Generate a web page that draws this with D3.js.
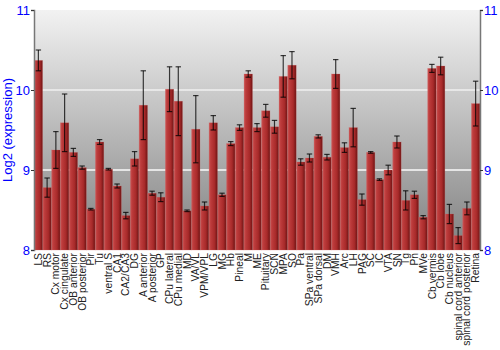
<!DOCTYPE html>
<html>
<head>
<meta charset="utf-8">
<script src="https://cdn.jsdelivr.net/npm/d3@7"></script>
<style>
body { margin: 0; background: #fff; }
svg { font-family: "Liberation Sans", Arial, sans-serif; }
</style>
</head>
<body>
<svg width="500" height="350"></svg>
<script>
var regions = ["LS","RS","Cx motor","Cx cingulate","OB anterior","OB posterior","Pir","Tu","ventral S","CA1","CA2/CA3","DG","A anterior","A posterior","GP","CPu lateral","CPu medial","MD","VA/VL","VPM/VPL","LG","MG","Hb","Pineal","M","ME","Pituitary","SCN","MPA","SO","Pa","SPa ventral","SPa dorsal","DM","VMH","Arc","LH","PAG","SC","IC","VTA","SN","Tg","Pn","MVe","Cb vermis","Cb lobe","Cb nucleus","spinal cord anterior","spinal cord posterior","Retina"];
var expression = [10.37,8.78,9.25,9.59,9.22,9.03,8.51,9.35,9.01,8.80,8.43,9.14,9.81,8.71,8.66,10.01,9.86,8.49,9.51,8.55,9.59,8.69,9.33,9.53,10.20,9.53,9.74,9.54,10.17,10.31,9.10,9.15,9.42,9.16,10.20,9.28,9.53,8.63,9.22,8.88,9.00,9.35,8.62,8.69,8.41,10.27,10.30,8.45,8.18,8.52,9.83];
var errors = [0.13,0.12,0.23,0.36,0.05,0.02,0.01,0.03,0.01,0.025,0.04,0.09,0.43,0.025,0.055,0.28,0.43,0.01,0.42,0.05,0.09,0.02,0.025,0.035,0.04,0.05,0.08,0.08,0.26,0.17,0.04,0.05,0.02,0.035,0.18,0.06,0.24,0.07,0.01,0.01,0.06,0.075,0.12,0.045,0.02,0.05,0.11,0.12,0.1,0.08,0.28];
var yTicks = [8, 9, 10, 11];

var svg = d3.select("svg"),
    margin = {top: 10, right: 20, bottom: 100, left: 34},
    width = +svg.attr("width") - margin.left - margin.right,
    height = +svg.attr("height") - margin.top - margin.bottom,
    g = svg.append("g").attr("transform", "translate(" + margin.left + "," + margin.top + ")");

var defs = svg.append("defs");
var bg = defs.append("linearGradient").attr("id", "bg").attr("x1", 0).attr("y1", 0).attr("x2", 0).attr("y2", 1);
bg.append("stop").attr("offset", "0%").attr("stop-color", "#f2f2f2");
bg.append("stop").attr("offset", "100%").attr("stop-color", "#808080");

var barGrad = defs.append("linearGradient").attr("id", "bar").attr("x1", 0).attr("y1", 0).attr("x2", 1).attr("y2", 0);
barGrad.append("stop").attr("offset", "0%").attr("stop-color", "#cc5555");
barGrad.append("stop").attr("offset", "20%").attr("stop-color", "#bd3c3c");
barGrad.append("stop").attr("offset", "65%").attr("stop-color", "#a82a2a");
barGrad.append("stop").attr("offset", "100%").attr("stop-color", "#6e1414");

var x = d3.scaleBand()
    .domain(regions)
    .range([0, width])
    .paddingInner(0.04)
    .paddingOuter(0.02);

var y = d3.scaleLinear()
    .domain([8, 11])
    .range([height, 0]);

g.append("rect")
    .attr("width", width)
    .attr("height", height)
    .attr("fill", "url(#bg)");

// grid lines
g.selectAll(".grid")
    .data([9, 10])
  .enter().append("line")
    .attr("x1", 0).attr("x2", width)
    .attr("y1", function(d) { return y(d); })
    .attr("y2", function(d) { return y(d); })
    .attr("stroke", "#fff")
    .attr("stroke-opacity", function(d) { return d == 10 ? 0.7 : 0.95; })
    .attr("stroke-width", 1.5);

// bars
g.selectAll(".bar")
    .data(regions)
  .enter().append("rect")
    .attr("x", function(d) { return x(d); })
    .attr("y", function(d, i) { return y(expression[i]); })
    .attr("width", x.bandwidth())
    .attr("height", function(d, i) { return height - y(expression[i]); })
    .attr("fill", "url(#bar)")
    .attr("stroke", "#d06060")
    .attr("stroke-opacity", 0.4)
    .attr("stroke-width", 0.6);

// error bars
var err = g.selectAll(".err")
    .data(regions)
  .enter().append("g")
    .attr("stroke", "#000")
    .attr("stroke-opacity", 0.75)
    .attr("stroke-width", 1.2);

err.append("line")
    .attr("x1", function(d) { return x(d) + x.bandwidth() / 2; })
    .attr("x2", function(d) { return x(d) + x.bandwidth() / 2; })
    .attr("y1", function(d, i) { return y(expression[i] + errors[i]); })
    .attr("y2", function(d, i) { return y(expression[i] - errors[i]); });

[1, -1].forEach(function(s) {
  err.append("line")
    .attr("x1", function(d) { return x(d) + x.bandwidth() / 2 - 2.7; })
    .attr("x2", function(d) { return x(d) + x.bandwidth() / 2 + 2.7; })
    .attr("y1", function(d, i) { return y(expression[i] + s * errors[i]); })
    .attr("y2", function(d, i) { return y(expression[i] + s * errors[i]); });
});

// axes
var yLeft = g.append("g")
    .attr("class", "axis axis--y")
    .call(d3.axisLeft(y).tickValues(yTicks).tickFormat(d3.format("d")).tickSize(3).tickPadding(1));
var yRight = g.append("g")
    .attr("class", "axis axis--y")
    .attr("transform", "translate(" + width + ",0)")
    .call(d3.axisRight(y).tickValues(yTicks).tickFormat(d3.format("d")).tickSize(3).tickPadding(1));

[yLeft, yRight].forEach(function(a) {
  a.select(".domain").attr("stroke", "#777").attr("stroke-width", 1.5);
  a.selectAll(".tick line").attr("stroke", "#333");
  a.selectAll(".tick text").attr("fill", "#0000ff").style("font-size", "13px");
});

var xAxis = g.append("g")
    .attr("transform", "translate(0," + height + ")")
    .call(d3.axisBottom(x).tickSize(0).tickPadding(3));
xAxis.select(".domain").remove();
xAxis.selectAll("text")
    .attr("transform", "rotate(-90)")
    .attr("text-anchor", "end")
    .attr("x", -3)
    .attr("y", 0)
    .attr("dy", "0.35em")
    .attr("fill", "#222")
    .style("font-size", "10.3px");

svg.append("text")
    .attr("transform", "translate(12," + (margin.top + height / 2) + ") rotate(-90)")
    .attr("text-anchor", "middle")
    .attr("fill", "#0000ff")
    .style("font-size", "13px")
    .text("Log2 (expression)");
</script>
</body>
</html>
